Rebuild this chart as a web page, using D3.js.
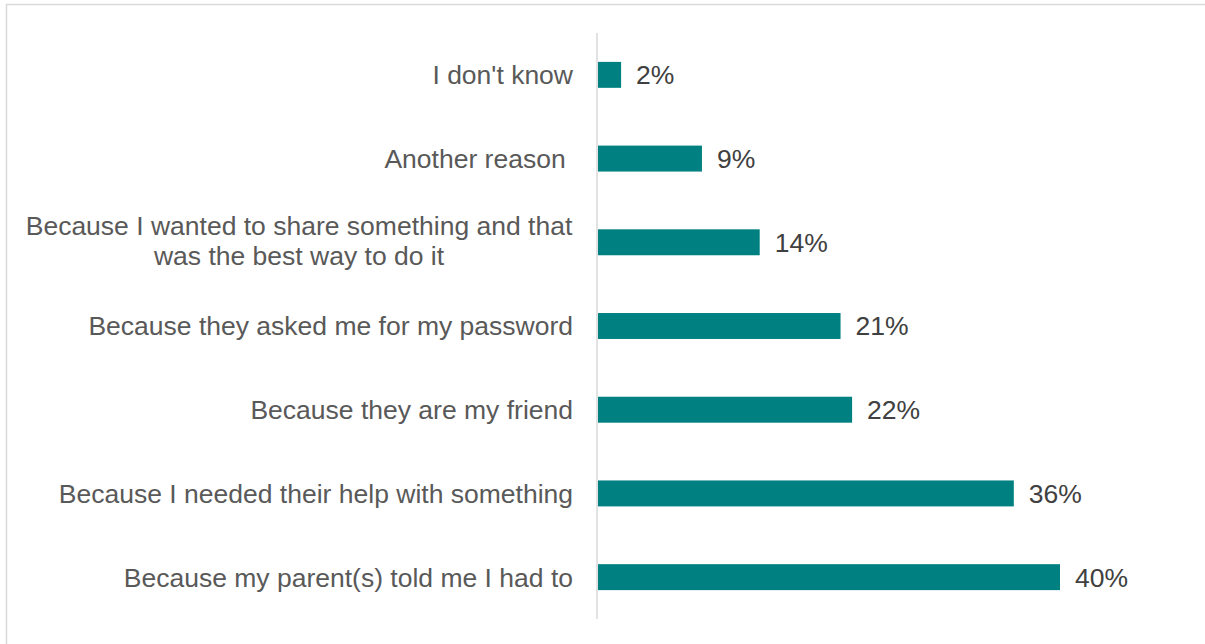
<!DOCTYPE html>
<html>
<head>
<meta charset="utf-8">
<script src="https://cdn.jsdelivr.net/npm/d3@7"></script>
<style>
  html, body { margin: 0; padding: 0; background: #fff; }
  svg { display: block; }
  text { font-family: "Liberation Sans", Arial, sans-serif; }
</style>
</head>
<body>
<svg id="chart" width="1205" height="644"></svg>
<script>
// Reasons for sharing a password (% of respondents), top to bottom
const categories = [
  ["I don't know"],
  ["Another reason "],
  ["Because I wanted to share something and that", "was the best way to do it"],
  ["Because they asked me for my password"],
  ["Because they are my friend"],
  ["Because I needed their help with something"],
  ["Because my parent(s) told me I had to"]
];
const values = [2, 9, 14, 21, 22, 36, 40];
const valueLabels = ["2%", "9%", "14%", "21%", "22%", "36%", "40%"];

const svg = d3.select("#chart");
const W = 1205, H = 644;
const FS = 26.5;

// light frame along the top and left edges
svg.append("line").attr("x1", 6).attr("x2", W).attr("y1", 4.5).attr("y2", 4.5)
  .attr("stroke", "#d9d9d9").attr("stroke-width", 1.5);
svg.append("line").attr("x1", 6.5).attr("x2", 6.5).attr("y1", 4).attr("y2", H)
  .attr("stroke", "#d9d9d9").attr("stroke-width", 1.5);

const idx = d3.range(categories.length);
const y = d3.scaleBand().domain(idx).range([33, 619]).paddingInner(0.69).paddingOuter(0.345);
const x = d3.scaleLinear().domain([0, 40]).range([598, 1060]);

// bars
svg.append("g").selectAll("rect").data(idx).join("rect")
  .attr("x", x(0))
  .attr("y", i => y(i))
  .attr("width", i => x(values[i]) - x(0))
  .attr("height", y.bandwidth())
  .attr("fill", "#008080");

// category axis line
svg.append("line").attr("x1", 597).attr("x2", 597).attr("y1", 33).attr("y2", 619)
  .attr("stroke", "#d9d9d9").attr("stroke-width", 1.5);

// category labels (multi-line ones centred as a block)
const capMid = FS * 0.358;
const lab = svg.append("g").selectAll("text").data(idx).join("text")
  .attr("x", 573)
  .attr("y", i => y(i) + y.bandwidth() / 2)
  .attr("fill", "#595959")
  .style("font-size", FS + "px")
  .style("white-space", "pre");
lab.each(function(i) {
  const lines = categories[i];
  const t = d3.select(this);
  const lh = 30;
  lines.forEach((ln, k) => {
    t.append("tspan")
      .attr("x", lines.length > 1 ? 299 : 573)
      .attr("text-anchor", lines.length > 1 ? "middle" : "end")
      .attr("dy", k === 0 ? (-(lines.length - 1) * lh / 2) + capMid - (lines.length > 1 ? 2 : 0) : lh)
      .text(ln);
  });
});

// value labels
svg.append("g").selectAll("text").data(idx).join("text")
  .attr("x", i => x(values[i]) + 15)
  .attr("y", i => y(i) + y.bandwidth() / 2 + capMid)
  .attr("fill", "#404040")
  .style("font-size", FS + "px")
  .text(i => valueLabels[i]);
</script>
</body>
</html>
